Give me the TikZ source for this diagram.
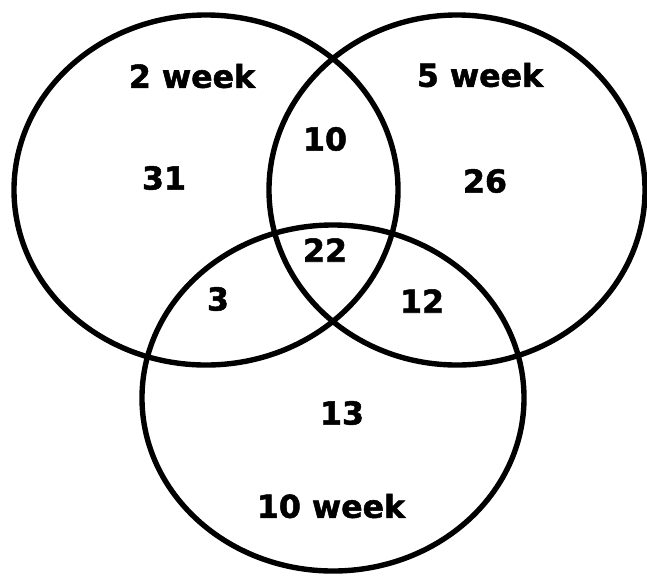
\documentclass[tikz,border=0pt]{standalone}
\usepackage{fontspec}
\setmainfont{DejaVu Sans}
\newfontfamily\countfont[BoldFeatures={FakeBold=1.6}]{DejaVu Sans}
\usetikzlibrary{shapes.geometric}

\begin{document}
\begin{tikzpicture}[
  x=0.03cm, y=-0.03cm,
  setring/.style={draw=black, line width=4.6pt, ellipse, inner sep=0pt, outer sep=0pt},
  count/.style={font=\fontsize{27}{30}\selectfont\countfont\bfseries, inner sep=0pt},
]
\useasboundingbox (0,0) rectangle (647,575);
% sets
\node[setring, minimum width=11.52cm, minimum height=10.5cm]  (two)  at (206,190) {};
\node[setring, minimum width=11.28cm, minimum height=10.5cm]  (five) at (457,190) {};
\node[setring, minimum width=11.46cm, minimum height=10.38cm] (ten)  at (333,398) {};
% labels
\node[count] (twolbl)  at (192,76)  {2 week};
\node[count] (fivelbl) at (480,75)  {5 week};
\node[count] (tenlbl)  at (331,506) {10 week};
% counts
\node[count] (only2)   at (164,178) {31};
\node[count] (only5)   at (485,181) {26};
\node[count] (only10)  at (342,413) {13};
\node[count] (both25)  at (325,139) {10};
\node[count] (all)     at (325,250) {22};
\node[count] (both210) at (218,299) {3};
\node[count] (both510) at (422,301) {12};
\end{tikzpicture}
\end{document}
